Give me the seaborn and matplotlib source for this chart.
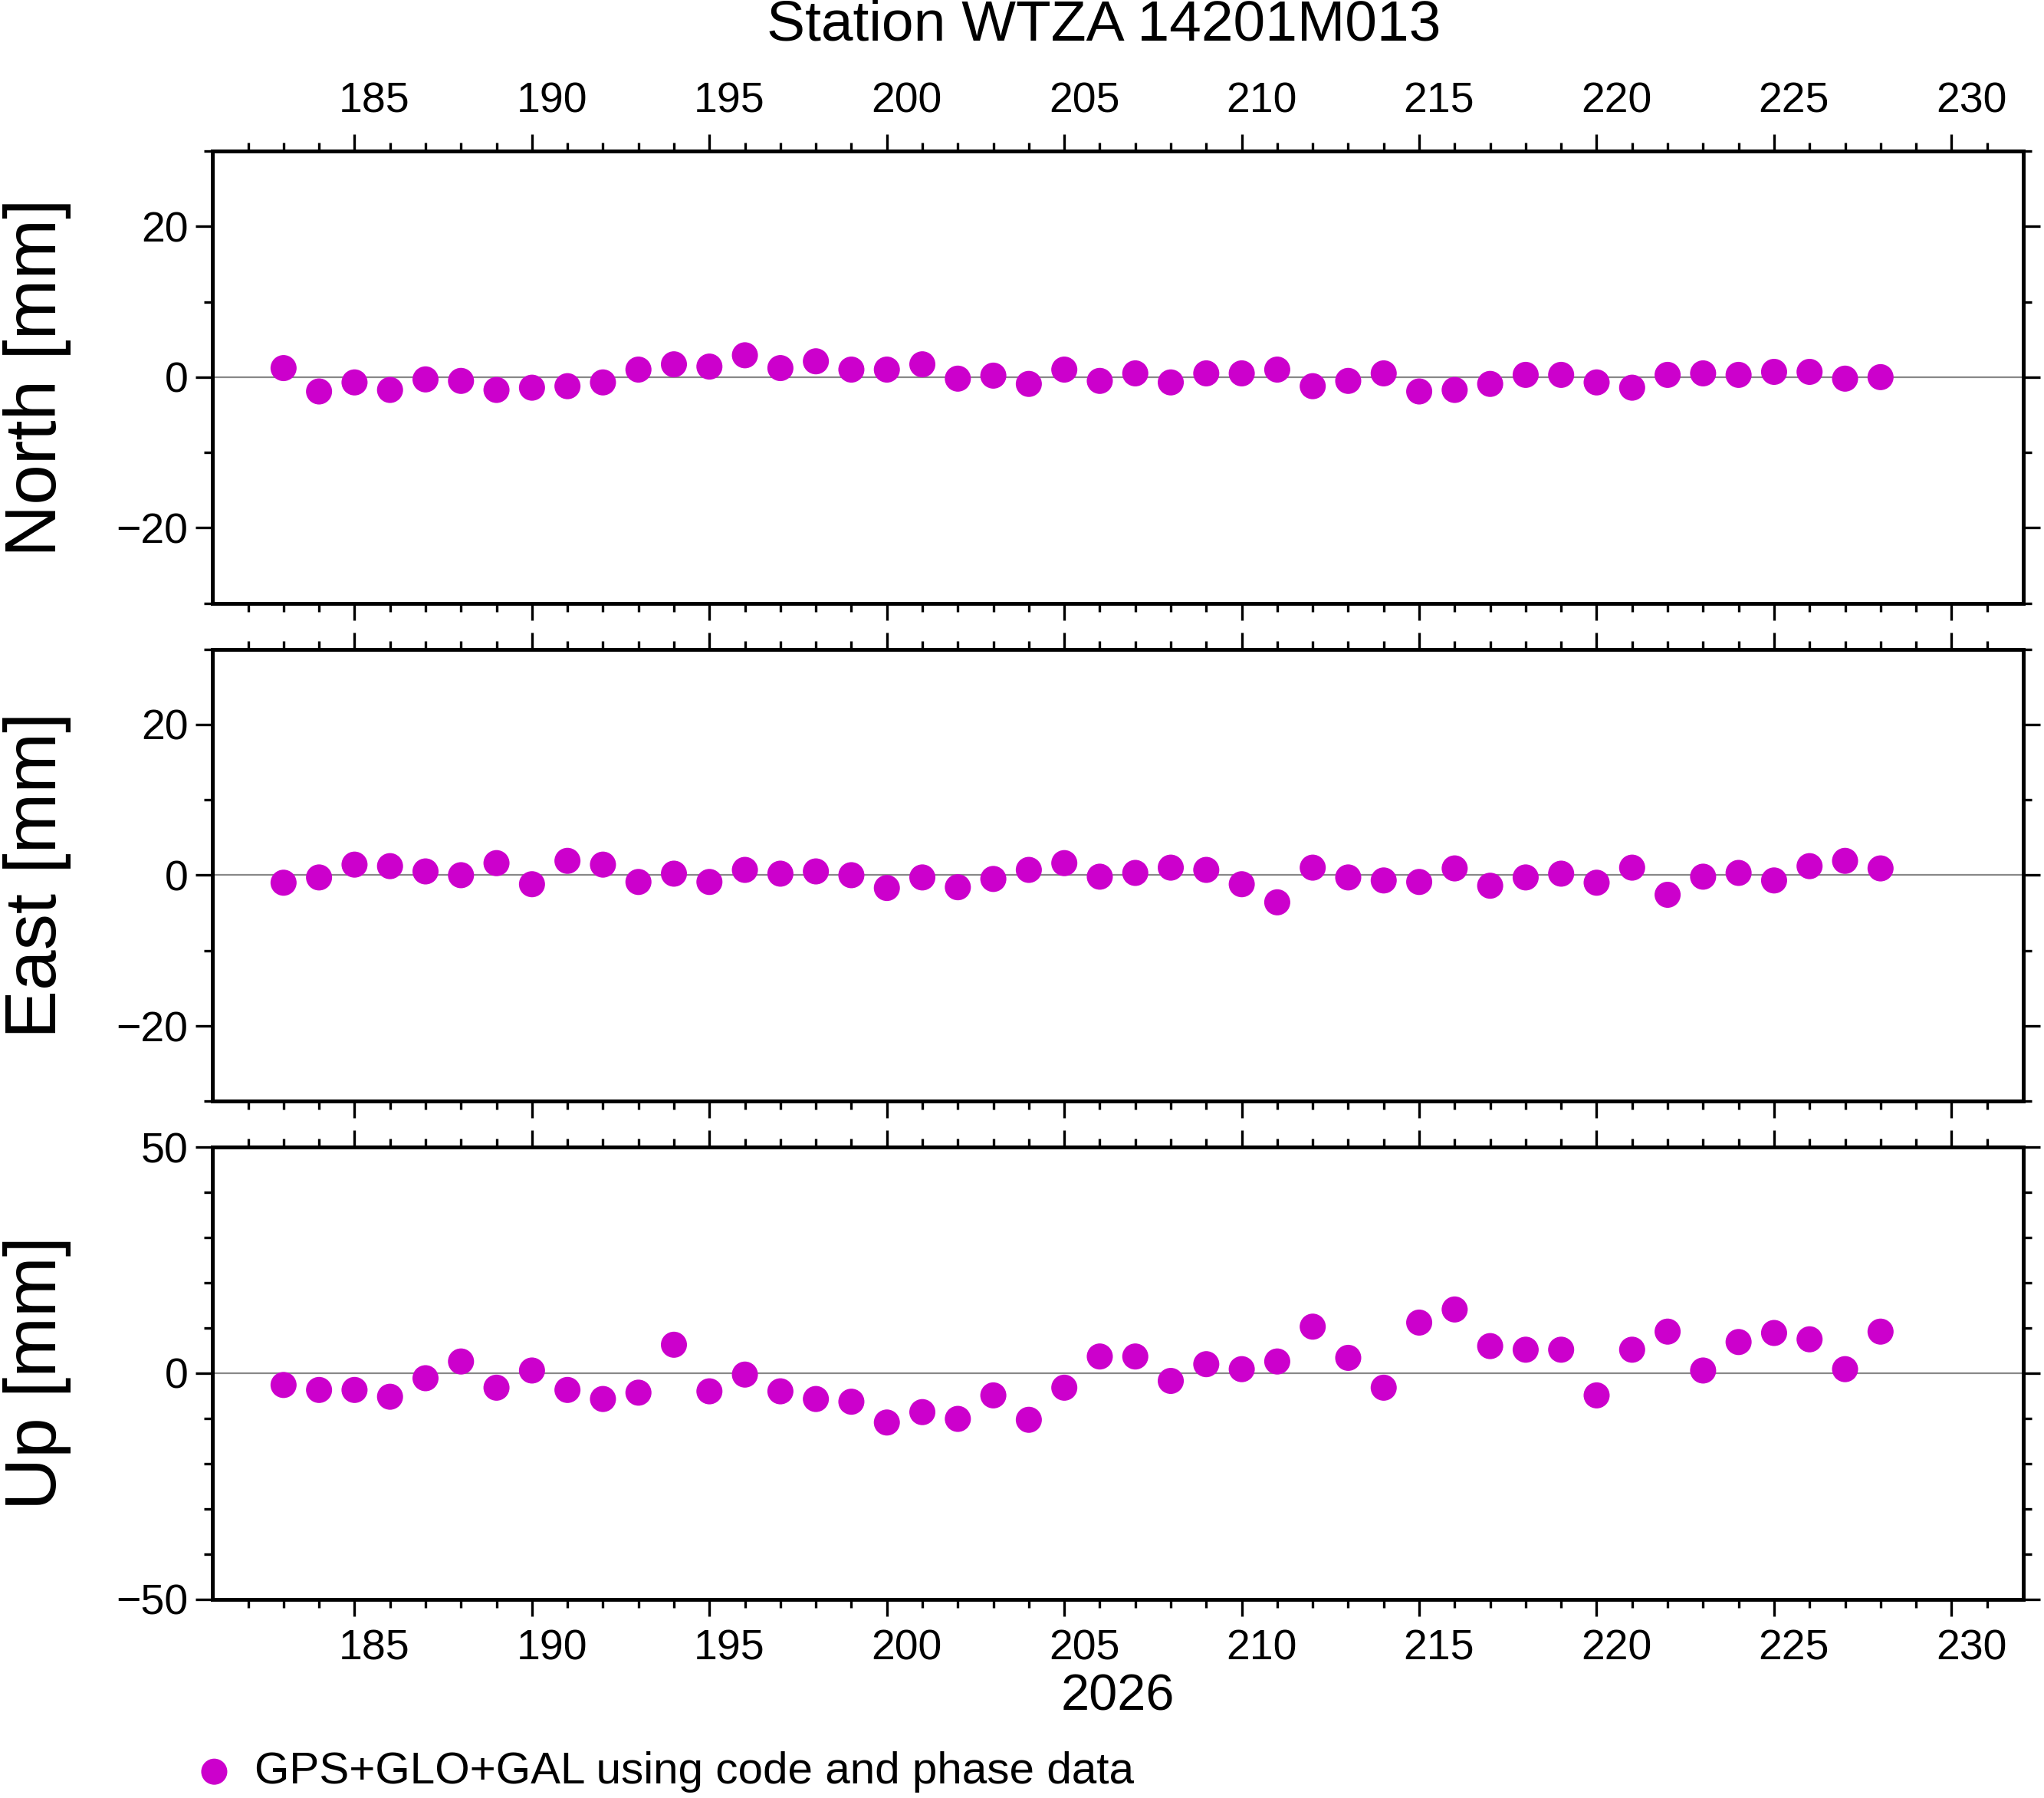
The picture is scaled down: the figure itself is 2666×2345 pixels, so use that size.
import numpy as np
import pandas as pd
import matplotlib
matplotlib.use("Agg")
import matplotlib.pyplot as plt
import matplotlib.transforms as mtransforms
import seaborn as sns

days = list(range(183, 229))
north = [1.2, -1.9, -0.7, -1.7, -0.3, -0.5, -1.7, -1.4, -1.2, -0.7,
         1.0, 1.7, 1.4, 2.9, 1.2, 2.1, 1.0, 1.0, 1.7, -0.2,
         0.2, -0.9, 1.0, -0.5, 0.5, -0.7, 0.5, 0.5, 1.0, -1.2,
         -0.5, 0.5, -1.9, -1.7, -0.9, 0.3, 0.3, -0.7, -1.4, 0.3,
         0.5, 0.3, 0.7, 0.7, -0.2, 0.0]
east = [-1.0, -0.3, 1.4, 1.2, 0.5, 0.0, 1.6, -1.2, 1.9, 1.4,
        -0.9, 0.2, -0.9, 0.7, 0.2, 0.5, 0.0, -1.7, -0.3, -1.6,
        -0.5, 0.7, 1.6, -0.2, 0.3, 1.0, 0.7, -1.2, -3.6, 1.0,
        -0.3, -0.7, -0.9, 0.9, -1.4, -0.3, 0.2, -1.0, 1.0, -2.6,
        -0.2, 0.3, -0.7, 1.2, 1.9, 0.9]
up = [-2.6, -3.7, -3.7, -5.2, -1.1, 2.6, -3.2, 0.6, -3.7, -5.7,
      -4.3, 6.3, -4.0, -0.3, -4.0, -5.7, -6.3, -10.9, -8.6, -10.1,
      -4.9, -10.3, -3.2, 3.7, 3.7, -1.7, 2.0, 0.9, 2.6, 10.3,
      3.4, -3.2, 11.2, 14.1, 6.0, 5.2, 5.2, -4.9, 5.2, 9.2,
      0.6, 6.9, 8.9, 7.5, 0.9, 9.2]

components = ["North", "East", "Up"]
ylims = [(-30, 30), (-30, 30), (-50, 50)]
ylabels_at = [[-20, 0, 20], [-20, 0, 20], [-50, 0, 50]]
xlabel_days = list(range(185, 231, 5))

df = pd.DataFrame({"day": days, "North": north, "East": east, "Up": up})

sns.set_style("ticks")
plt.rcParams['font.family'] = ['Liberation Sans', 'DejaVu Sans']
plt.rcParams['text.color'] = 'black'
plt.rcParams['axes.labelcolor'] = 'black'
plt.rcParams['xtick.color'] = 'black'
plt.rcParams['ytick.color'] = 'black'
plt.rcParams['axes.edgecolor'] = 'black'

fig = plt.figure(figsize=(13.33, 11.725), dpi=200)
tops = [0.084, 0.361, 0.638]
h = 0.2515
color = "#CC00CC"

for i, comp in enumerate(components):
    ax = fig.add_axes([0.104, 1 - tops[i] - h, 0.886, h])
    ax.axhline(0, color="#888888", lw=0.8, zorder=1)
    sns.scatterplot(data=df, x="day", y=comp, ax=ax, color=color, s=150,
                    edgecolor="none", zorder=3, legend=False,
                    label="GPS+GLO+GAL using code and phase data" if i == 2 else None)
    ax.set_xlim(181, 232.03)
    ax.set_ylim(*ylims[i])
    lo, hi = ylims[i]
    ax.set_yticks(ylabels_at[i])
    ax.set_yticks(np.arange(lo, hi + 1, 10), minor=True)
    ax.set_xticks(xlabel_days)
    ax.set_xticks(range(182, 232), minor=True)
    ax.tick_params(axis="both", which="both", direction="out", top=True, right=True,
                   labelsize=20, width=1.2)
    ax.tick_params(axis="x", pad=6)
    ax.tick_params(which="major", length=8)
    ax.tick_params(which="minor", length=4)
    ax.tick_params(axis="x", labeltop=(i == 0), labelbottom=(i == 2))
    ax.set_yticklabels(["\u2212" + str(-v) if v < 0 else str(v) for v in ylabels_at[i]])
    ax.set_xticklabels([str(d) for d in xlabel_days])
    offset = mtransforms.ScaledTranslation(0.13, 0, fig.dpi_scale_trans)
    for lab in ax.get_xticklabels():
        lab.set_transform(lab.get_transform() + offset)
    for sp in ax.spines.values():
        sp.set_linewidth(1.8)
    ax.set_ylabel(comp + " [mm]", fontsize=34, labelpad=2)
    ax.yaxis.set_label_coords(-0.078, 0.5)
    ax.set_xlabel("")
    if i == 2:
        ax.set_xlabel("2026", fontsize=24, labelpad=2)
        handles, labels = ax.get_legend_handles_labels()

fig.text(0.54, 0.986, "Station WTZA 14201M013", fontsize=27, ha="center", va="center")
fig.legend(handles, labels, loc="center left", bbox_to_anchor=(0.072, 0.0145),
           frameon=False, fontsize=21, handletextpad=0.3, handlelength=1.2)

fig.savefig("out.png", dpi=200)
